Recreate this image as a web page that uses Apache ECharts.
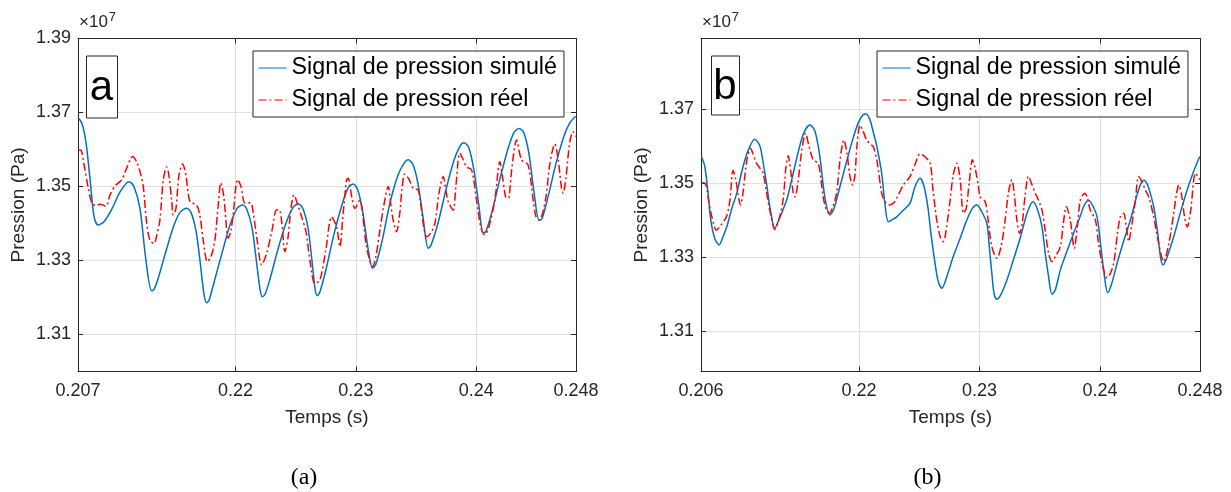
<!DOCTYPE html>
<html><head><meta charset="utf-8">
<script src="https://cdn.jsdelivr.net/npm/echarts@6/dist/echarts.min.js"></script>
<style>html,body{margin:0;padding:0;background:#fff}#c{width:1231px;height:492px}</style>
</head><body><div id="c"></div>
<script>
// ---- tick values / labels ----
const xTickValuesA = [0.2069, 0.22, 0.23, 0.24, 0.2483];
const xTickLabelsA = ['0.207', '0.22', '0.23', '0.24', '0.248'];
const xTickValuesB = [0.2069, 0.22, 0.23, 0.24, 0.2483];
const xTickLabelsB = ['0.206', '0.22', '0.23', '0.24', '0.248'];
const yTicksA = [1.31, 1.33, 1.35, 1.37, 1.39];
const yTicksB = [1.31, 1.33, 1.35, 1.37];
const seriesNames = ['Signal de pression simulé', 'Signal de pression réel'];
const panelLetters = ['a', 'b'];
const captions = ['(a)', '(b)'];

// ---- data: [time (s), pressure (x1e7 Pa)] ----
const simA = [[0.20690,1.3687],[0.20723,1.3670],[0.20756,1.3620],[0.20790,1.3520],[0.20823,1.3420],[0.20856,1.3396],[0.20906,1.3405],[0.20973,1.3440],[0.21039,1.3485],[0.21114,1.3513],[0.21155,1.3500],[0.21205,1.3440],[0.21255,1.3300],[0.21302,1.3218],[0.21322,1.3222],[0.21355,1.3250],[0.21421,1.3325],[0.21488,1.3395],[0.21538,1.3430],[0.21593,1.3441],[0.21629,1.3430],[0.21671,1.3380],[0.21704,1.3300],[0.21737,1.3210],[0.21760,1.3186],[0.21779,1.3192],[0.21820,1.3240],[0.21887,1.3320],[0.21953,1.3395],[0.22011,1.3440],[0.22059,1.3450],[0.22094,1.3438],[0.22136,1.3390],[0.22169,1.3310],[0.22202,1.3225],[0.22222,1.3202],[0.22244,1.3208],[0.22286,1.3250],[0.22352,1.3330],[0.22418,1.3400],[0.22477,1.3443],[0.22521,1.3453],[0.22560,1.3440],[0.22601,1.3390],[0.22635,1.3300],[0.22660,1.3225],[0.22679,1.3205],[0.22701,1.3215],[0.22751,1.3275],[0.22817,1.3370],[0.22884,1.3450],[0.22934,1.3495],[0.22978,1.3507],[0.23017,1.3490],[0.23058,1.3430],[0.23100,1.3335],[0.23139,1.3279],[0.23166,1.3290],[0.23216,1.3350],[0.23283,1.3455],[0.23349,1.3530],[0.23399,1.3562],[0.23435,1.3572],[0.23474,1.3560],[0.23515,1.3510],[0.23557,1.3420],[0.23601,1.3333],[0.23623,1.3340],[0.23682,1.3400],[0.23748,1.3490],[0.23815,1.3570],[0.23864,1.3608],[0.23898,1.3618],[0.23939,1.3605],[0.23981,1.3545],[0.24022,1.3450],[0.24058,1.3375],[0.24080,1.3378],[0.24130,1.3430],[0.24197,1.3520],[0.24263,1.3600],[0.24313,1.3645],[0.24357,1.3657],[0.24396,1.3645],[0.24438,1.3590],[0.24479,1.3490],[0.24523,1.3409],[0.24546,1.3412],[0.24596,1.3470],[0.24662,1.3560],[0.24729,1.3635],[0.24778,1.3672],[0.24828,1.3690]];
const realA = [[0.20690,1.3599],[0.20715,1.3598],[0.20740,1.3560],[0.20773,1.3500],[0.20806,1.3455],[0.20840,1.3448],[0.20873,1.3452],[0.20923,1.3447],[0.20956,1.3477],[0.20997,1.3501],[0.21053,1.3518],[0.21089,1.3545],[0.21145,1.3581],[0.21180,1.3565],[0.21214,1.3530],[0.21233,1.3500],[0.21261,1.3400],[0.21288,1.3355],[0.21322,1.3346],[0.21346,1.3370],[0.21371,1.3410],[0.21399,1.3518],[0.21427,1.3553],[0.21446,1.3530],[0.21469,1.3460],[0.21482,1.3423],[0.21504,1.3440],[0.21529,1.3530],[0.21560,1.3561],[0.21587,1.3530],[0.21621,1.3459],[0.21676,1.3450],[0.21704,1.3420],[0.21731,1.3355],[0.21765,1.3297],[0.21795,1.3310],[0.21828,1.3355],[0.21853,1.3440],[0.21878,1.3510],[0.21903,1.3470],[0.21939,1.3360],[0.21961,1.3380],[0.21981,1.3428],[0.22017,1.3519],[0.22045,1.3500],[0.22078,1.3455],[0.22125,1.3456],[0.22147,1.3428],[0.22177,1.3360],[0.22217,1.3288],[0.22258,1.3319],[0.22302,1.3380],[0.22341,1.3437],[0.22363,1.3437],[0.22385,1.3400],[0.22410,1.3324],[0.22435,1.3360],[0.22460,1.3440],[0.22485,1.3477],[0.22518,1.3450],[0.22549,1.3418],[0.22584,1.3380],[0.22618,1.3300],[0.22660,1.3238],[0.22701,1.3247],[0.22751,1.3330],[0.22798,1.3418],[0.22840,1.3391],[0.22867,1.3337],[0.22892,1.3420],[0.22923,1.3518],[0.22936,1.3522],[0.22967,1.3470],[0.22992,1.3441],[0.23033,1.3463],[0.23058,1.3420],[0.23089,1.3337],[0.23139,1.3283],[0.23166,1.3310],[0.23200,1.3382],[0.23233,1.3450],[0.23269,1.3500],[0.23291,1.3450],[0.23310,1.3409],[0.23338,1.3378],[0.23366,1.3430],[0.23382,1.3490],[0.23407,1.3534],[0.23441,1.3520],[0.23476,1.3495],[0.23518,1.3491],[0.23540,1.3450],[0.23565,1.3390],[0.23588,1.3364],[0.23623,1.3375],[0.23657,1.3400],[0.23690,1.3480],[0.23726,1.3527],[0.23748,1.3490],[0.23767,1.3460],[0.23809,1.3436],[0.23831,1.3500],[0.23864,1.3590],[0.23889,1.3575],[0.23920,1.3553],[0.23962,1.3545],[0.24003,1.3463],[0.24039,1.3390],[0.24072,1.3369],[0.24105,1.3390],[0.24155,1.3463],[0.24197,1.3567],[0.24222,1.3520],[0.24252,1.3468],[0.24272,1.3470],[0.24297,1.3550],[0.24336,1.3626],[0.24377,1.3572],[0.24432,1.3558],[0.24474,1.3463],[0.24496,1.3420],[0.24523,1.3409],[0.24554,1.3430],[0.24585,1.3482],[0.24612,1.3560],[0.24654,1.3615],[0.24679,1.3580],[0.24710,1.3495],[0.24723,1.3482],[0.24745,1.3520],[0.24778,1.3620],[0.24806,1.3648],[0.24828,1.3635]];
const simB = [[0.20693,1.3571],[0.20721,1.3545],[0.20746,1.3480],[0.20771,1.3400],[0.20804,1.3350],[0.20840,1.3332],[0.20870,1.3352],[0.20904,1.3381],[0.20945,1.3430],[0.20987,1.3472],[0.21028,1.3530],[0.21078,1.3585],[0.21136,1.3618],[0.21178,1.3600],[0.21203,1.3560],[0.21233,1.3499],[0.21269,1.3420],[0.21302,1.3377],[0.21336,1.3400],[0.21400,1.3453],[0.21444,1.3510],[0.21494,1.3580],[0.21543,1.3635],[0.21593,1.3656],[0.21635,1.3640],[0.21676,1.3571],[0.21718,1.3460],[0.21760,1.3413],[0.21793,1.3430],[0.21843,1.3490],[0.21892,1.3550],[0.21942,1.3610],[0.21992,1.3660],[0.22034,1.3684],[0.22059,1.3686],[0.22092,1.3670],[0.22117,1.3640],[0.22148,1.3600],[0.22189,1.3526],[0.22217,1.3440],[0.22244,1.3395],[0.22275,1.3400],[0.22314,1.3408],[0.22366,1.3425],[0.22424,1.3445],[0.22466,1.3490],[0.22507,1.3512],[0.22541,1.3490],[0.22574,1.3430],[0.22599,1.3360],[0.22632,1.3282],[0.22657,1.3235],[0.22688,1.3215],[0.22729,1.3246],[0.22782,1.3300],[0.22840,1.3350],[0.22890,1.3395],[0.22940,1.3430],[0.22979,1.3440],[0.23014,1.3425],[0.23062,1.3390],[0.23081,1.3330],[0.23103,1.3255],[0.23122,1.3200],[0.23145,1.3185],[0.23181,1.3200],[0.23228,1.3237],[0.23280,1.3290],[0.23338,1.3350],[0.23397,1.3420],[0.23444,1.3449],[0.23480,1.3430],[0.23519,1.3381],[0.23546,1.3310],[0.23574,1.3246],[0.23602,1.3199],[0.23629,1.3210],[0.23671,1.3264],[0.23721,1.3310],[0.23781,1.3363],[0.23837,1.3410],[0.23870,1.3440],[0.23906,1.3452],[0.23937,1.3440],[0.23976,1.3408],[0.24003,1.3340],[0.24031,1.3264],[0.24064,1.3203],[0.24095,1.3225],[0.24142,1.3282],[0.24194,1.3340],[0.24253,1.3400],[0.24302,1.3460],[0.24336,1.3495],[0.24366,1.3507],[0.24394,1.3495],[0.24419,1.3470],[0.24446,1.3435],[0.24477,1.3370],[0.24502,1.3300],[0.24524,1.3278],[0.24552,1.3295],[0.24612,1.3354],[0.24668,1.3420],[0.24724,1.3481],[0.24776,1.3530],[0.24828,1.3571]];
const realB = [[0.20693,1.3499],[0.20712,1.3500],[0.20735,1.3490],[0.20754,1.3450],[0.20779,1.3410],[0.20818,1.3372],[0.20854,1.3385],[0.20901,1.3408],[0.20929,1.3450],[0.20956,1.3533],[0.20978,1.3510],[0.20997,1.3470],[0.21017,1.3440],[0.21037,1.3470],[0.21070,1.3560],[0.21101,1.3593],[0.21120,1.3580],[0.21150,1.3553],[0.21178,1.3540],[0.21205,1.3526],[0.21236,1.3470],[0.21261,1.3426],[0.21302,1.3374],[0.21336,1.3400],[0.21371,1.3453],[0.21394,1.3540],[0.21413,1.3573],[0.21435,1.3530],[0.21455,1.3472],[0.21469,1.3462],[0.21494,1.3500],[0.21527,1.3590],[0.21558,1.3634],[0.21585,1.3600],[0.21621,1.3562],[0.21662,1.3553],[0.21685,1.3510],[0.21704,1.3462],[0.21726,1.3430],[0.21754,1.3418],[0.21784,1.3435],[0.21815,1.3472],[0.21843,1.3560],[0.21876,1.3616],[0.21901,1.3580],[0.21926,1.3517],[0.21948,1.3494],[0.21967,1.3520],[0.21984,1.3600],[0.22009,1.3656],[0.22034,1.3640],[0.22064,1.3616],[0.22092,1.3605],[0.22119,1.3598],[0.22150,1.3560],[0.22189,1.3472],[0.22217,1.3449],[0.22250,1.3440],[0.22286,1.3445],[0.22316,1.3460],[0.22369,1.3494],[0.22424,1.3517],[0.22466,1.3550],[0.22507,1.3578],[0.22549,1.3570],[0.22591,1.3553],[0.22615,1.3480],[0.22646,1.3399],[0.22674,1.3355],[0.22701,1.3341],[0.22723,1.3370],[0.22757,1.3453],[0.22782,1.3520],[0.22812,1.3553],[0.22840,1.3510],[0.22867,1.3418],[0.22890,1.3430],[0.22915,1.3500],[0.22942,1.3562],[0.22964,1.3540],[0.22992,1.3490],[0.23006,1.3462],[0.23048,1.3449],[0.23072,1.3400],[0.23103,1.3327],[0.23145,1.3296],[0.23181,1.3330],[0.23214,1.3400],[0.23239,1.3470],[0.23269,1.3508],[0.23289,1.3470],[0.23311,1.3399],[0.23333,1.3363],[0.23355,1.3390],[0.23380,1.3470],[0.23407,1.3518],[0.23430,1.3500],[0.23463,1.3472],[0.23490,1.3453],[0.23519,1.3426],[0.23546,1.3370],[0.23574,1.3309],[0.23602,1.3287],[0.23629,1.3300],[0.23671,1.3327],[0.23696,1.3390],[0.23721,1.3435],[0.23754,1.3399],[0.23787,1.3323],[0.23812,1.3380],[0.23837,1.3453],[0.23873,1.3472],[0.23895,1.3460],[0.23920,1.3426],[0.23962,1.3400],[0.23987,1.3340],[0.24017,1.3283],[0.24059,1.3243],[0.24086,1.3255],[0.24114,1.3282],[0.24144,1.3360],[0.24169,1.3408],[0.24197,1.3418],[0.24219,1.3380],[0.24238,1.3341],[0.24261,1.3380],[0.24294,1.3453],[0.24321,1.3517],[0.24352,1.3500],[0.24377,1.3480],[0.24405,1.3462],[0.24446,1.3408],[0.24485,1.3340],[0.24529,1.3287],[0.24568,1.3330],[0.24612,1.3418],[0.24635,1.3470],[0.24654,1.3494],[0.24676,1.3470],[0.24701,1.3410],[0.24724,1.3381],[0.24751,1.3420],[0.24793,1.3526],[0.24828,1.3508]];

// ---- style ----
const AX = '#262626', GRIDC = '#dfdfdf', BLUE = '#0072BD', RED = '#FF0000';
const SANS = 'Liberation Sans, Arial, sans-serif';
const grids = [
  {left: 78, top: 38.5, width: 498, height: 333},
  {left: 701, top: 38.5, width: 499, height: 333}
];
const yRange = [[1.30, 1.39], [1.299, 1.389]];
const xRange = [0.2069, 0.2483];
const xTicks = [[xTickValuesA, xTickLabelsA], [xTickValuesB, xTickLabelsB]];
const yTicks = [yTicksA, yTicksB];
const data = [[simA, realA], [simB, realB]];

function nearestLabel(vals, labs, v) {
  let bi = 0, bd = Infinity;
  vals.forEach((x, i) => { const d = Math.abs(x - v); if (d < bd) { bd = d; bi = i; } });
  return labs[bi];
}

const xAxis = [], yAxis = [], series = [], legend = [], graphic = [];
grids.forEach((g, i) => {
  const [xv, xl] = xTicks[i];
  xAxis.push({
    type: 'value', gridIndex: i, min: xRange[0], max: xRange[1], position: 'bottom',
    name: 'Temps (s)', nameLocation: 'middle', nameGap: 37,
    nameTextStyle: {fontFamily: SANS, fontSize: 19, color: AX},
    axisLine: {onZero: false, lineStyle: {color: AX, width: 1}},
    axisTick: {inside: true, length: 5, customValues: xv, lineStyle: {color: AX}},
    axisLabel: {customValues: xv, margin: 11, fontFamily: SANS, fontSize: 18, color: AX,
      formatter: v => nearestLabel(xv, xl, v)},
    splitLine: {show: true, lineStyle: {color: GRIDC, width: 1}}
  });
  xAxis.push({
    type: 'value', gridIndex: i, min: xRange[0], max: xRange[1], position: 'top',
    axisLine: {onZero: false, lineStyle: {color: AX, width: 1}},
    axisTick: {inside: true, length: 5, customValues: xv, lineStyle: {color: AX}},
    axisLabel: {show: false}, splitLine: {show: false}
  });
  yAxis.push({
    type: 'value', gridIndex: i, min: yRange[i][0], max: yRange[i][1], position: 'left',
    name: 'Pression (Pa)', nameLocation: 'middle', nameGap: 50,
    nameTextStyle: {fontFamily: SANS, fontSize: 19, color: AX},
    axisLine: {show: true, onZero: false, lineStyle: {color: AX, width: 1}},
    axisTick: {show: true, inside: true, length: 5, customValues: yTicks[i], lineStyle: {color: AX}},
    axisLabel: {customValues: yTicks[i], margin: 7, fontFamily: SANS, fontSize: 18, color: AX,
      formatter: v => v.toFixed(2)},
    splitLine: {show: true, lineStyle: {color: GRIDC, width: 1}}
  });
  yAxis.push({
    type: 'value', gridIndex: i, min: yRange[i][0], max: yRange[i][1], position: 'right',
    axisLine: {show: true, onZero: false, lineStyle: {color: AX, width: 1}},
    axisTick: {show: true, inside: true, length: 5, customValues: yTicks[i], lineStyle: {color: AX}},
    axisLabel: {show: false}, splitLine: {show: false}
  });
  series.push({
    name: seriesNames[0], type: 'line', xAxisIndex: 2 * i, yAxisIndex: 2 * i,
    data: data[i][0], showSymbol: false, symbol: 'none', smooth: 0.3,
    lineStyle: {color: BLUE, width: 1.5}, itemStyle: {color: BLUE}, z: 3
  });
  series.push({
    name: seriesNames[1], type: 'line', xAxisIndex: 2 * i, yAxisIndex: 2 * i,
    data: data[i][1], showSymbol: false, symbol: 'none', smooth: 0.3,
    lineStyle: {color: RED, width: 1.5, type: [8, 3, 2, 3]}, itemStyle: {color: RED}, z: 4
  });
  legend.push({
    data: seriesNames, orient: 'vertical', left: g.left + (i === 0 ? 175 : 176), top: 51,
    padding: [5, 7, 5, 5], itemGap: 8, itemWidth: 28, itemHeight: 14,
    borderColor: AX, borderWidth: 1, backgroundColor: '#fff',
    itemStyle: {opacity: 0, borderWidth: 0},
    lineStyle: {width: 1},
    textStyle: {fontFamily: SANS, fontSize: 23.3, color: '#000', lineHeight: 24},
    selectedMode: false
  });
  // panel letter box
  const bx = g.left + (i === 0 ? 8 : 10), by = 55.5, bw = i === 0 ? 31 : 28, bh = i === 0 ? 62 : 59;
  graphic.push({type: 'rect', left: bx, top: by, shape: {width: bw, height: bh},
    style: {fill: '#fff', stroke: AX, lineWidth: 1}, z: 10});
  graphic.push({type: 'text', x: bx + bw / 2, y: by + bh / 2 + 2,
    style: {text: panelLetters[i], font: '42px ' + SANS, fill: '#000', align: 'center', verticalAlign: 'middle'}, z: 11});
  // exponent
  graphic.push({type: 'text', x: g.left + 1, y: 34,
    style: {text: '{a|×10}{b|7}', verticalAlign: 'bottom', fill: AX,
      rich: {a: {font: '17px ' + SANS, fill: AX}, b: {font: '13px ' + SANS, fill: AX, verticalAlign: 'top', padding: [0, 0, 10, 1]}}}, z: 11});
  // caption
  graphic.push({type: 'text', x: g.left + g.width / 2 - 23, y: 478,
    style: {text: captions[i], font: '24px Liberation Serif, serif', fill: '#000', align: 'center', verticalAlign: 'middle'}, z: 11});
});

const chart = echarts.init(document.getElementById('c'), null, {renderer: 'canvas'});
chart.setOption({
  backgroundColor: '#fff', animation: false,
  grid: grids.map(g => Object.assign({containLabel: false}, g)),
  xAxis, yAxis, series, legend, graphic
});
</script></body></html>
